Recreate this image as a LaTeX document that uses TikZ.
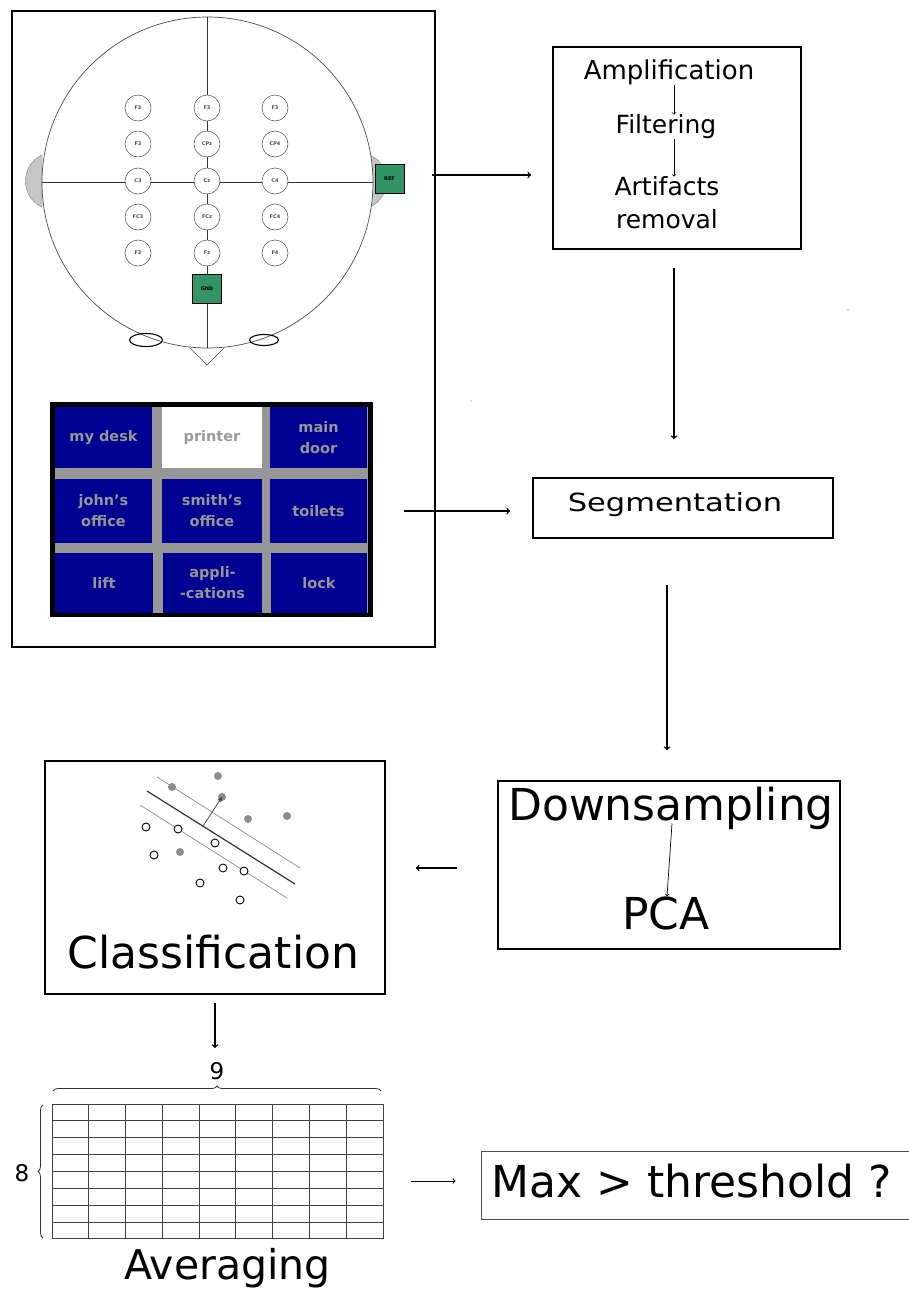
\documentclass[tikz,border=0pt]{standalone}
\usepackage{fontspec}
\setmainfont{DejaVu Sans}
\usetikzlibrary{arrows,decorations.pathreplacing}

\definecolor{screenblue}{RGB}{0,0,145}
\definecolor{screengray}{RGB}{150,150,150}
\definecolor{padgreen}{RGB}{51,148,102}
\tikzset{
  stagebox/.style={draw,line width=1.6pt,minimum width=#1},
  flow/.style={-to,line width=1.4pt},
  smallflow/.style={-to,line width=0.7pt},
  electrode/.style={circle,draw=black!70,fill=white,line width=0.5pt,minimum size=26pt,inner sep=0pt,font=\bfseries\fontsize{5}{5}\selectfont,text=black!70},
  pad/.style={draw=black,fill=padgreen,line width=1pt,minimum size=29pt,inner sep=0pt,font=\bfseries\fontsize{5}{5}\selectfont},
  cell/.style={fill=screenblue,inner sep=0pt,text=screengray,align=center,font=\bfseries\fontsize{14.5}{21}\selectfont},
  ptfull/.style={circle,fill=black!45,minimum size=8pt,inner sep=0pt},
  ptopen/.style={circle,draw=black,fill=white,line width=0.9pt,minimum size=8pt,inner sep=0pt},
  stagetext/.style={inner sep=0pt,align=center},
}

\begin{document}
\begin{tikzpicture}[x=1pt,y=-1pt]
      \useasboundingbox (0,0) rectangle (909,1293);
      \fill[white] (0,0) rectangle (909,1293);
      % acquisition frame
      \node[draw,line width=2.8pt,inner sep=0pt,minimum width=423pt,minimum height=636pt] (frame) at (223.5,329) {};
      % head
      \fill[black!22,draw=black!50,line width=0.4pt] (42,155) .. controls (20,165) and (20,197) .. (42,207) -- cycle;
      \fill[black!22,draw=black!50,line width=0.4pt] (370,155) .. controls (392,165) and (392,197) .. (370,207) -- cycle;
      \draw[black!70,line width=0.6pt,fill=white] (190,348) -- (207,365) -- (224,348);
      \node[circle,draw=black!70,fill=white,line width=0.7pt,minimum size=331pt,inner sep=0pt] (head) at (207.5,182.5) {};
      \draw[black!80,line width=0.9pt] (head.north) -- (head.south);
      \draw[black!80,line width=0.9pt] (head.west) -- (head.east);
      \draw[line width=1.1pt] (146,340) ellipse (16.5pt and 6.5pt);
      \draw[line width=1.1pt] (264,340) ellipse (14.5pt and 5.5pt);
      \foreach \x/\y/\name/\lab in {138/108/a1/F3,207/108/a2/F3,275/108/a3/F3,
        138/144/b1/F3,207/144/b2/CPz,275/144/b3/CP4,
        138/181/c1/C3,207/181/c2/Cz,275/181/c3/C4,
        138/217/d1/FC3,207/217/d2/FCz,275/217/d3/FC4,
        138/253/e1/F3,207/253/e2/Fz,275/253/e3/F4}
      \node[electrode] (\name) at (\x,\y) {\lab};
      \node[pad] (ref) at (389.5,179) {REF};
      \node[pad] (gnd) at (207,289) {GND};
      % speller screen
      \node[fill=black,inner sep=0pt,minimum width=323pt,minimum height=215pt] (screen) at (211.5,509.5) {};
      \fill[screengray] (55,407) rectangle (368,613);
      \foreach \xa/\xb/\ya/\yb/\name/\lab in {
        55/152/407/468/desk/my desk,
        270/367/407/468/door/main\\door,
        55/152/479/543/john/john's\\office,
        162/262/479/543/smith/smith's\\office,
        270/367/479/543/toilets/toilets,
        55/153/553/613/lift/lift,
        163/262/553/613/apps/appli-\\-cations,
        271/367/553/613/lock/lock}
      \node[cell,minimum width=\xb pt-\xa pt,minimum height=\yb pt-\ya pt] (\name) at ({(\xa+\xb)/2},{(\ya+\yb)/2}) {\lab};
      \node[cell,fill=white,text=black!40,minimum width=100pt,minimum height=61pt] (printer) at (212,437.5) {printer};
      % stages
      \node[stagebox=248pt,minimum height=202pt] (ampbox) at (677,148) {};
      \node[stagetext,font=\fontsize{26}{26}\selectfont] (amptext) at (669,72) {Amplification};
      \node[stagetext,font=\fontsize{25}{25}\selectfont] (filtertext) at (666,127) {Filtering};
      \node[stagetext,font=\fontsize{25}{33}\selectfont] (artifacttext) at (667,203) {Artifacts\\removal};
      \node[stagebox=300pt,minimum height=60pt] (segbox) at (683,508) {};
      \node[stagetext,font=\fontsize{25}{25}\selectfont] (segtext) at (675,505) {\scalebox{1.22}[1]{Segmentation}};
      \node[stagebox=342pt,minimum height=168pt] (pcabox) at (669,865) {};
      \node[stagetext,font=\fontsize{44}{44}\selectfont] (downtext) at (671,808) {Downsampling};
      \node[stagetext,font=\fontsize{44}{44}\selectfont] (pcatext) at (666,913) {PCA};
      \node[stagebox=340pt,minimum height=233pt] (classbox) at (215,877.5) {};
      \node[stagetext,font=\fontsize{44}{44}\selectfont] (classtext) at (213.5,952) {Classification};
      \node[draw,black!70,line width=0.9pt,minimum width=429pt,minimum height=68pt] (maxbox) at (695.5,1185) {};
      \node[stagetext,font=\fontsize{44}{44}\selectfont] (maxtext) at (691.5,1181) {Max > threshold ?};
      % separating lines
      \draw[black!45,line width=0.7pt] (157,777) -- (300,868);
      \draw[black!45,line width=0.7pt] (140,805) -- (287,898);
      \draw[black!80,line width=1.2pt] (147,791) -- (295,884);
      \foreach \x/\y/\name in {172/787/p1,218/776/p2,222/797/p3,248/819/p4,287/816/p5,180/852/p6}
      \node[ptfull] (\name) at (\x,\y) {};
      \foreach \x/\y/\name in {146/827/q1,178/829/q2,215/843/q3,154/855/q4,223/868/q5,244/871/q6,200/883/q7,240/900/q8}
      \node[ptopen] (\name) at (\x,\y) {};
      \coordinate (foot) at (203,826);
      \draw[-stealth',black!70,line width=0.8pt] (foot) -- (p3.center);
      % averaging grid
      \foreach \i in {0,...,9}
      \draw[black!75,line width=1pt] ({52+\i*36.78},1104) -- ({52+\i*36.78},1239);
      \foreach \j in {0,...,8}
      \draw[black!75,line width=1pt] (52,{1104+\j*16.87}) -- (383,{1104+\j*16.87});
      \node[inner sep=0pt,minimum width=331pt,minimum height=135pt] (gridbox) at (217.5,1171.5) {};
      \coordinate (topa) at (53,1091);
      \coordinate (topb) at (381,1091);
      \coordinate (lefta) at (43,1238);
      \coordinate (leftb) at (43,1105);
      \draw[black!80,line width=0.8pt,decorate,decoration={brace,amplitude=5pt}] (topa) -- (topb);
      \draw[black!80,line width=0.8pt,decorate,decoration={brace,amplitude=5pt}] (lefta) -- (leftb);
      \node[stagetext,font=\fontsize{23}{23}\selectfont] (ninelab) at (217,1071) {9};
      \node[stagetext,font=\fontsize{23}{23}\selectfont] (eightlab) at (22,1173) {8};
      \node[stagetext,font=\fontsize{41}{41}\selectfont] (avgtext) at (227.5,1268) {Averaging};
      % arrows
      \draw[smallflow] ([xshift=5pt]amptext.south) -- ([xshift=8pt]filtertext.north);
      \draw[smallflow] ([xshift=8pt]filtertext.south) -- ([xshift=7pt]artifacttext.north);
      \draw[smallflow] ([xshift=1pt,yshift=6pt]downtext.south) -- ([xshift=1pt]pcatext.north);
      \draw[flow,shorten <=-4pt,shorten >=21pt] (frame.east |- 0,175) -- (ampbox.west |- 0,175);
      \draw[flow,shorten <=18pt,shorten >=38pt] ([xshift=-3pt]ampbox.south) -- ([xshift=-3pt]ampbox.south |- segbox.north);
      \draw[flow,shorten <=31pt,shorten >=22pt] (screen.east |- 0,511) -- (segbox.west |- 0,511);
      \draw[flow,shorten <=46pt,shorten >=30pt] ([xshift=-16pt]segbox.south) -- ([xshift=-16pt]segbox.south |- pcabox.north);
      \draw[flow,shorten <=40pt,shorten >=30pt] (pcabox.west |- 0,868) -- (classbox.east |- 0,868);
      \draw[flow,shorten <=8pt,shorten >=14pt] (classbox.south) -- (classbox.south |- ninelab.north);
      \draw[smallflow,line width=1pt,shorten <=28pt,shorten >=25pt] (gridbox.east |- 0,1181) -- (maxbox.west |- 0,1181);
      % stray specks
      \fill[black!60] (848,310) circle (0.6pt);
      \fill[black!60] (471,401) circle (0.6pt);
    \end{tikzpicture}
\end{document}
